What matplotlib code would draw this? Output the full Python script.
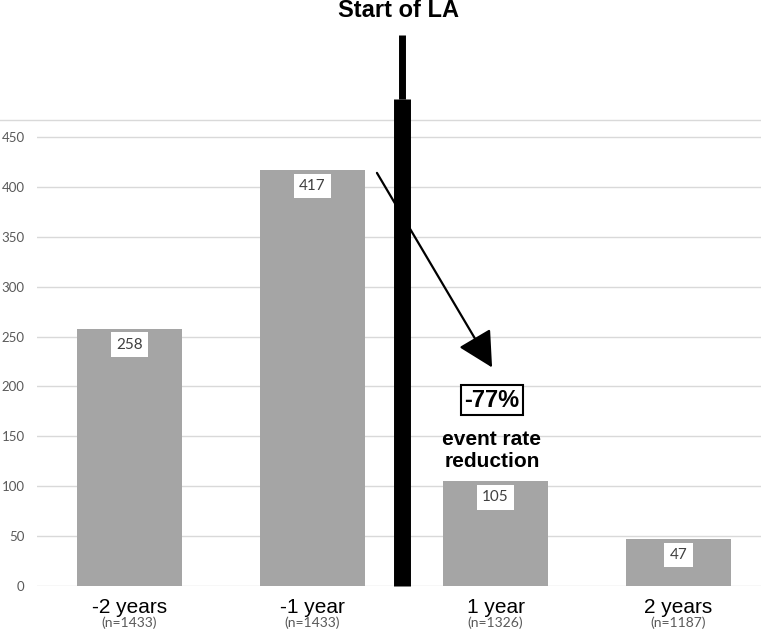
import matplotlib.pyplot as plt
import numpy as np

categories = ['-2 years', '-1 year', '1 year', '2 years']
sample_sizes = ['(n=1433)', '(n=1433)', '(n=1326)', '(n=1187)']
events = [258, 417, 105, 47]
y_ticks = list(range(0, 451, 50))
reduction = '-77%'

W, H = 761, 640
fig = plt.figure(figsize=(W / 100, H / 100), dpi=100)
ax = fig.add_axes([37 / W, (H - 586) / H, (W - 37) / W, 466 / H])

x = np.arange(len(categories))
ax.bar(x, events, width=0.57, color='#a5a5a5', zorder=2)
ax.set_xlim(-0.505, 3.45)
ax.set_ylim(0, 467)

# axes styling (Excel-like)
for s in ax.spines.values():
    s.set_visible(False)
ax.grid(axis='y', color='#d9d9d9', lw=1, zorder=0)
ax.set_yticks(y_ticks)
ax.set_yticklabels([str(t) for t in y_ticks], fontfamily='Lato', fontsize=9.5, color='#595959')
ax.tick_params(length=0)
ax.tick_params(axis='y', pad=9)
ax.set_xticks(x, [])

# top frame line (runs over the full width of the picture)
ax.plot([-37 / 724, 1.01], [1, 1], transform=ax.transAxes, color='#d9d9d9', lw=1,
        clip_on=False, zorder=1)

# category labels + sample sizes
for i, (cat, n) in enumerate(zip(categories, sample_sizes)):
    ax.annotate(cat, xy=(i, 0), xycoords=('data', 'axes fraction'), xytext=(0, -27),
                textcoords='offset pixels', ha='center', va='baseline',
                fontsize=15, fontfamily='Liberation Sans', color='black')
    ax.annotate(n, xy=(i, 0), xycoords=('data', 'axes fraction'), xytext=(0, -41),
                textcoords='offset pixels', ha='center', va='baseline',
                fontsize=10, fontfamily='Lato', color='#595959')

# value labels
for i, v in enumerate(events):
    ax.annotate(str(v), xy=(i, v), xytext=(0, -16), textcoords='offset pixels',
                ha='center', va='center', fontsize=11, fontfamily='Lato', color='#404040',
                bbox=dict(boxstyle='square,pad=0.35', fc='white', ec='none'), zorder=3)

# start of LA marker
la_x = 1.49
ax.plot([la_x, la_x], [0, 488], color='black', lw=12.2, solid_capstyle='butt',
        clip_on=False, zorder=4)
ax.plot([la_x, la_x], [488, 552], color='black', lw=5, solid_capstyle='butt',
        clip_on=False, zorder=4)
fig.text(398 / W, 1 - 17 / H, 'Start of LA', ha='center', va='baseline',
         fontsize=17, fontweight='bold', fontfamily='Liberation Sans')

# reduction arrow
ax.annotate('', xy=(1.981, 219), xytext=(1.352, 414),
            arrowprops=dict(arrowstyle='-|>,head_length=2.2,head_width=1.15',
                            mutation_scale=10, lw=1.6, color='black',
                            shrinkA=0, shrinkB=0), zorder=5)
ax.text(1.98, 186, reduction, ha='center', va='center', fontsize=17,
        fontweight='bold', fontfamily='Liberation Sans',
        bbox=dict(boxstyle='square,pad=0.15', fc='white', ec='black', lw=1.5), zorder=5)
ax.text(1.98, 136, 'event rate\nreduction', ha='center', va='center', fontsize=15,
        fontweight='bold', fontfamily='Liberation Sans', linespacing=1.2, zorder=5)

fig.savefig('out.png', dpi=100)
